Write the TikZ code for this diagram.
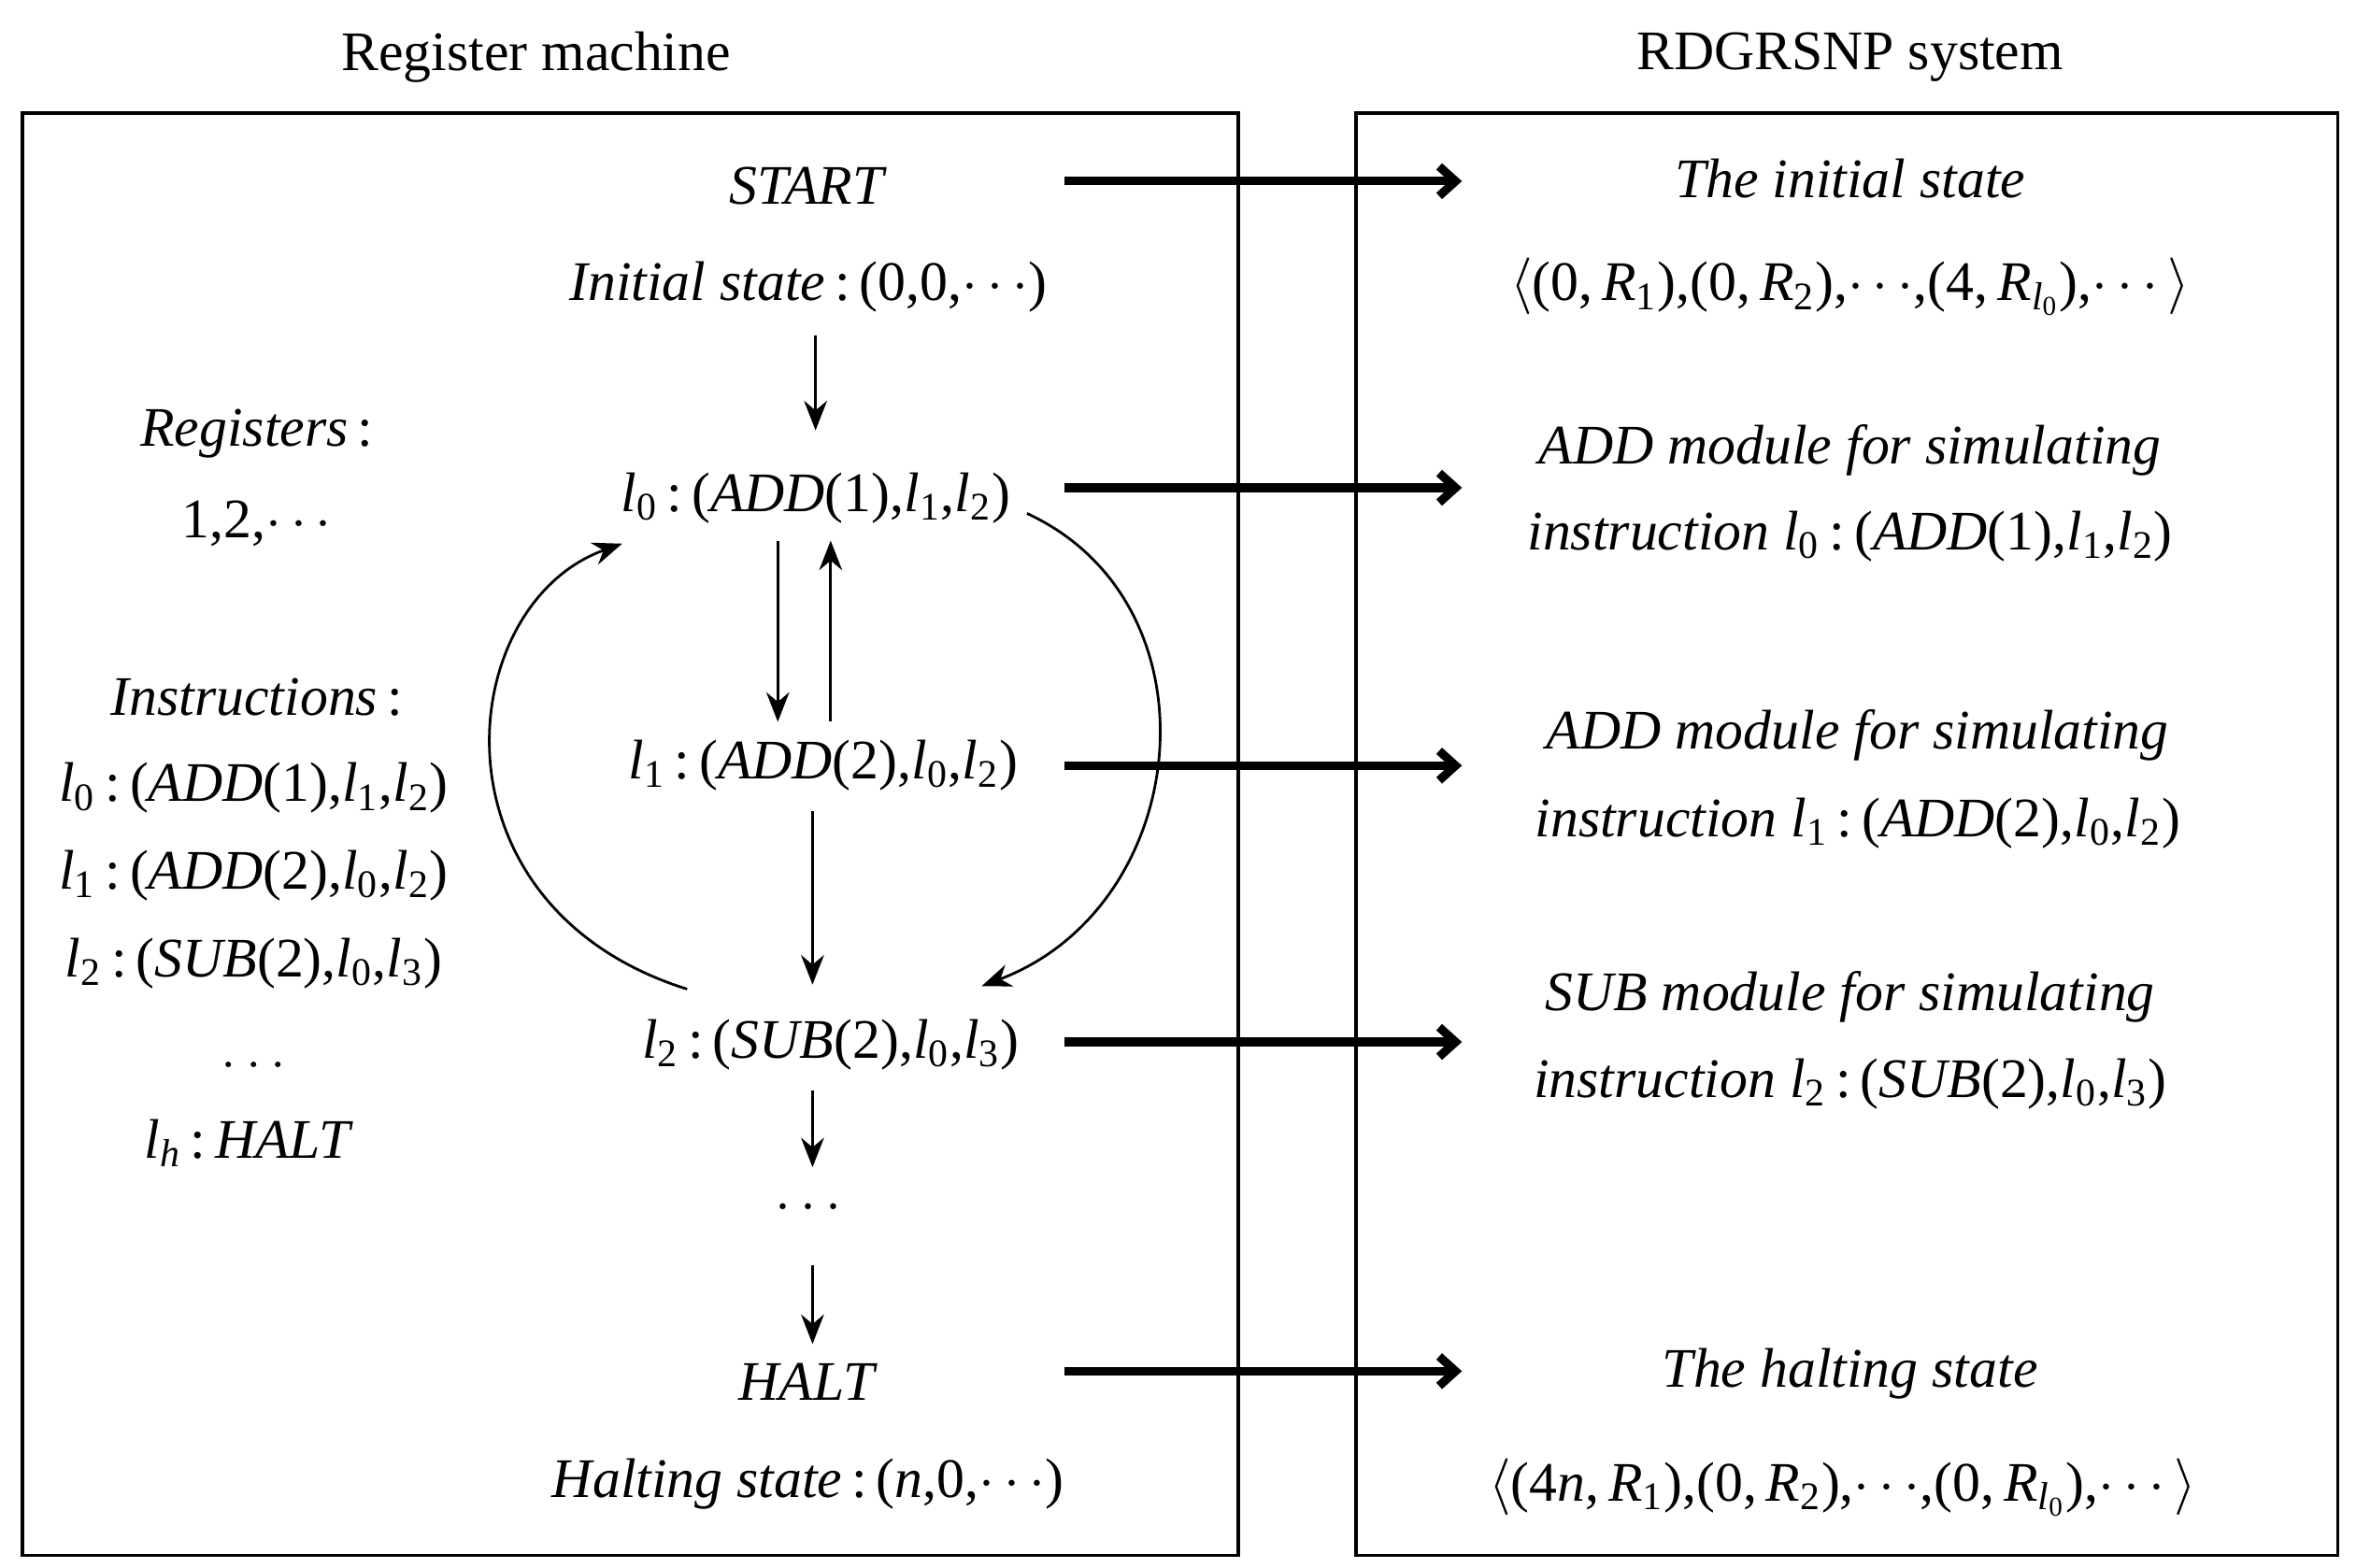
\documentclass[tikz,border=0pt]{standalone}
\usepackage{fontspec}
\setmainfont{Liberation Serif}
\usetikzlibrary{arrows.meta}
\newcommand{\lv}[1]{\textit{l}\textsubscript{#1}}
\newcommand{\Rv}[1]{\textit{R}\textsubscript{#1}}
\begin{document}
\begin{tikzpicture}[x=0.01616cm,y=-0.01616cm,
  t/.style={font=\fontsize{17}{20}\selectfont, inner sep=1pt},
  thick arr/.style={line width=2.6pt,-{Straight Barb[length=5pt,width=9pt]}},
  thin arr/.style={line width=0.8pt,-{Stealth[length=9pt,width=7pt]}}]
\useasboundingbox (0,0) rectangle (1560,1038);
\draw[line width=1pt] (15,75) rectangle (820,1030);
\draw[line width=1pt] (898,75) rectangle (1548,1030);
\node[t] (tl) at (355,38) {Register machine};
\node[t] (tr) at (1225,38) {RDGRSNP system};
% left column
\node[t] (start) at (535,123) {\textit{START}};
\node[t] (init) at (535,190) {\textit{Initial state}\,:\,(0,0,$\cdots$)};
\node[t] (L0) at (540,330) {\lv{0}\,:\,(\textit{ADD}(1),\lv{1},\lv{2})};
\node[t] (L1) at (545,507) {\lv{1}\,:\,(\textit{ADD}(2),\lv{0},\lv{2})};
\node[t] (L2) at (550,692) {\lv{2}\,:\,(\textit{SUB}(2),\lv{0},\lv{3})};
\node[t] (dots) at (535,800) {$\cdots$};
\node[t] (halt) at (535,915) {\textit{HALT}};
\node[t] (hst) at (535,983) {\textit{Halting state}\,:\,(\textit{n},0,$\cdots$)};
% registers
\node[t] (reg) at (170,287) {\textit{Registers}\,:};
\node[t] (regv) at (170,347) {1,2,$\cdots$};
\node[t] (ins) at (170,462) {\textit{Instructions}\,:};
\node[t] (i0) at (168,522) {\lv{0}\,:\,(\textit{ADD}(1),\lv{1},\lv{2})};
\node[t] (i1) at (168,580) {\lv{1}\,:\,(\textit{ADD}(2),\lv{0},\lv{2})};
\node[t] (i2) at (168,638) {\lv{2}\,:\,(\textit{SUB}(2),\lv{0},\lv{3})};
\node[t] (id) at (168,705) {$\ldots$};
\node[t] (ih) at (165,757) {\lv{\textit{h}}\,:\,\textit{HALT}};
% right column
\node[t] (r1a) at (1225,118) {\textit{The initial state}};
\node[t] (r1b) at (1225,190) {$\Big\langle$(0,\,\Rv{1}),(0,\,\Rv{2}),$\cdots$,(4,\,\textit{R}\textsubscript{\textit{l}\textsubscript{0}}),$\cdots\Big\rangle$};
\node[t] (r2a) at (1225,298) {\textit{ADD module for simulating}};
\node[t] (r2b) at (1225,355) {\textit{instruction} \lv{0}\,:\,(\textit{ADD}(1),\lv{1},\lv{2})};
\node[t] (r3a) at (1230,487) {\textit{ADD module for simulating}};
\node[t] (r3b) at (1230,545) {\textit{instruction} \lv{1}\,:\,(\textit{ADD}(2),\lv{0},\lv{2})};
\node[t] (r4a) at (1225,660) {\textit{SUB module for simulating}};
\node[t] (r4b) at (1225,718) {\textit{instruction} \lv{2}\,:\,(\textit{SUB}(2),\lv{0},\lv{3})};
\node[t] (r5a) at (1225,910) {\textit{The halting state}};
\node[t] (r5b) at (1220,985) {$\Big\langle$(4\textit{n},\,\Rv{1}),(0,\,\Rv{2}),$\cdots$,(0,\,\textit{R}\textsubscript{\textit{l}\textsubscript{0}}),$\cdots\Big\rangle$};
% thick arrows
\coordinate (a1) at (705,120); \coordinate (b1) at (968,120);
\coordinate (a2) at (705,323); \coordinate (b2) at (968,323);
\coordinate (a3) at (705,507); \coordinate (b3) at (968,507);
\coordinate (a4) at (705,690); \coordinate (b4) at (968,690);
\coordinate (a5) at (705,908); \coordinate (b5) at (968,908);
\foreach \i in {1,...,5} \draw[thick arr] (a\i) -- (b\i);
% thin arrows
\draw[thin arr] (540,222) -- (540,285);
\draw[thin arr] (515,358) -- (515,478);
\draw[thin arr] (550,478) -- (550,358);
\draw[thin arr] (538,537) -- (538,652);
\draw[thin arr] (538,722) -- (538,773);
\draw[thin arr] (538,838) -- (538,890);
% curves
\draw[thin arr] (455,655) .. controls (280,600) and (300,400) .. (412,360);
\draw[thin arr] (680,340) .. controls (810,400) and (790,600) .. (650,653);
\end{tikzpicture}
\end{document}
